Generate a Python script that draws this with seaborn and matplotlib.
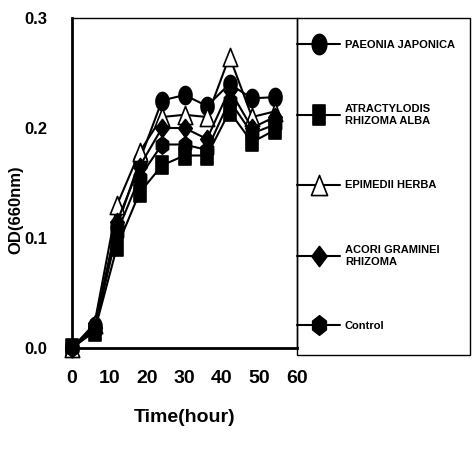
import numpy as np
import matplotlib
matplotlib.use("Agg")
import matplotlib.pyplot as plt
from matplotlib.path import Path
from matplotlib.lines import Line2D
from matplotlib.patches import Rectangle
import seaborn as sns
import pandas as pd

hours = [0, 6, 12, 18, 24, 30, 36, 42, 48, 54]
paeonia = [0.000, 0.020, 0.110, 0.170, 0.225, 0.230, 0.220, 0.240, 0.227, 0.228]
atractylodis = [0.000, 0.015, 0.092, 0.141, 0.166, 0.175, 0.175, 0.215, 0.187, 0.198]
epimedii = [0.000, 0.022, 0.130, 0.178, 0.210, 0.212, 0.210, 0.265, 0.210, 0.215]
acori = [0.000, 0.018, 0.115, 0.165, 0.200, 0.200, 0.190, 0.235, 0.200, 0.210]
control = [0.000, 0.016, 0.105, 0.155, 0.185, 0.185, 0.180, 0.225, 0.195, 0.203]

labels = ["PAEONIA JAPONICA", "ATRACTYLODIS\nRHIZOMA ALBA", "EPIMEDII HERBA",
          "ACORI GRAMINEI\nRHIZOMA", "Control"]
series = [paeonia, atractylodis, epimedii, acori, control]

xticks = [0, 10, 20, 30, 40, 50, 60]
yticks = [0.0, 0.1, 0.2, 0.3]
ytick_labels = ["0.0", "0.1", "0.2", "0.3"]

sns.set_theme(style="white")
plt.rcParams['font.family'] = ['Liberation Sans Narrow', 'Liberation Sans', 'DejaVu Sans']
plt.rcParams['font.weight'] = 'bold'
plt.rcParams['text.color'] = 'black'
plt.rcParams['axes.labelcolor'] = 'black'
plt.rcParams['xtick.color'] = 'black'
plt.rcParams['ytick.color'] = 'black'

# tall marker shapes
t = np.linspace(0, 2 * np.pi, 40)
ellipse = Path(np.column_stack([0.72 * np.cos(t), np.sin(t)]), closed=True)
rect = Path([(-0.65, -1), (0.65, -1), (0.65, 1), (-0.65, 1), (-0.65, -1)], closed=True)
tri = Path([(-0.8, -1), (0.8, -1), (0, 1), (-0.8, -1)], closed=True)
diam = Path([(0, -1), (0.75, 0), (0, 1), (-0.75, 0), (0, -1)], closed=True)
hexa = Path([(0, -1), (0.7, -0.45), (0.7, 0.45), (0, 1), (-0.7, 0.45), (-0.7, -0.45), (0, -1)], closed=True)
markers = [ellipse, rect, tri, diam, hexa]
faces = ['black', 'black', 'white', 'black', 'black']
sizes = [13, 12.5, 13, 13, 12.5]

fig = plt.figure(figsize=(4.74, 4.55), dpi=100)
ax = fig.add_axes([72 / 474, 1 - 348 / 455, (297 - 72) / 474, (348 - 18) / 455])

for s, lab, m, fc, ms in zip(series, labels, markers, faces, sizes):
    df = pd.DataFrame({"Time": hours, "OD": s})
    sns.lineplot(data=df, x="Time", y="OD", ax=ax, color='black', lw=1.5,
                 marker=m, markersize=ms, markerfacecolor=fc, markeredgecolor='black',
                 markeredgewidth=1.2, clip_on=False)

ax.set_xlim(0, 60)
ax.set_ylim(0, 0.3)
ax.set_xticks(xticks)
ax.set_xticklabels([str(v) for v in xticks], fontsize=14, fontweight='bold', color='black')
ax.set_yticks(yticks)
ax.set_yticklabels(ytick_labels, fontsize=12, fontweight='bold', color='black')
ax.tick_params(axis='x', direction='in', length=4, width=1.2, pad=16, colors='black')
ax.tick_params(axis='y', direction='out', length=0, pad=18, colors='black')
for sp in ax.spines.values():
    sp.set_color('black')
ax.spines['left'].set_linewidth(2.0)
ax.spines['bottom'].set_linewidth(2.0)
ax.spines['top'].set_linewidth(1.0)
ax.spines['right'].set_linewidth(1.0)
ax.set_xlabel("Time(hour)", fontsize=14, fontweight='bold', color='black')
ax.set_ylabel("OD(660nm)", fontsize=12, fontweight='bold', color='black')
ax.xaxis.set_label_coords(0.5, -0.185)
ax.yaxis.set_label_coords(-0.215, 0.42)

# legend
handles = [Line2D([0], [0], color='black', lw=1.5, marker=m, markersize=ms + 1.5,
                  markerfacecolor=fc, markeredgecolor='black', markeredgewidth=1.2)
           for m, fc, ms in zip(markers, faces, sizes)]
fig.add_artist(Rectangle((297 / 474, 1 - 355 / 455), (470 - 297) / 474, (355 - 18) / 455,
                         transform=fig.transFigure, fill=False, edgecolor='black', lw=1.0))
leg = fig.legend(handles, labels, loc='upper left',
                 bbox_to_anchor=(297 / 474, 1 - 40 / 455), frameon=False,
                 prop={'size': 8, 'weight': 'bold'}, handlelength=3.9,
                 handletextpad=0.4, labelspacing=4.9, borderaxespad=0, borderpad=0,
                 labelcolor='black')

fig.savefig("out.png", dpi=100)
